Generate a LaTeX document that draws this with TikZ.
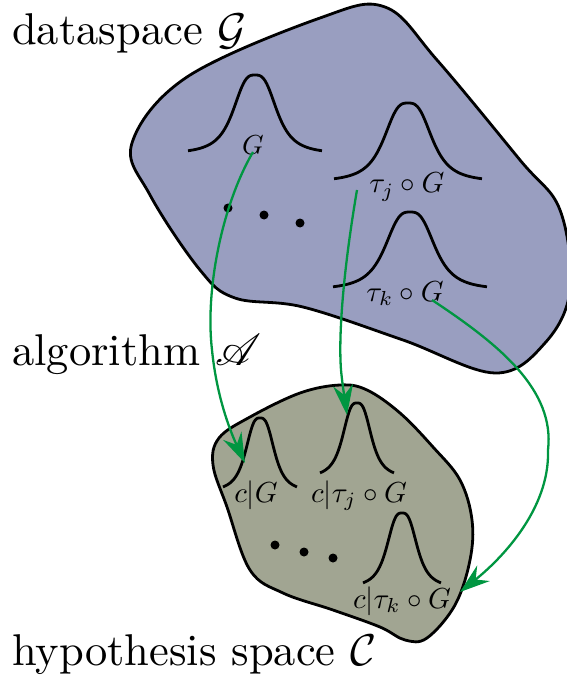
\documentclass[tikz,border=0pt]{standalone}
\usepackage{mathrsfs}
\usetikzlibrary{arrows.meta}
\definecolor{dataBlue}{RGB}{153,158,192}
\definecolor{hypGreen}{RGB}{161,165,146}
\definecolor{arrowGreen}{RGB}{0,150,65}
\newcommand\mybell[5]{% cx, base y, half width, height, a
  \draw[bellline] plot[domain=-1:1, samples=81, smooth]
    ({#1+#3*\x},{#2-#4/(1+(abs(\x)/#5)^3)});}
\begin{document}
\begin{tikzpicture}[x=1pt,y=-1pt,
  blob/.style={draw=black, line width=2.8pt, line join=round},
  bellline/.style={draw=black, line width=2.8pt},
  flow/.style={draw=arrowGreen, line width=2.3pt,
    -{Stealth[length=30pt,width=20pt,inset=10pt]}},
  biglabel/.style={anchor=base west, inner sep=0pt},
  smalllabel/.style={anchor=base, inner sep=0pt},
  blackdot/.style={circle, fill=black, inner sep=0pt, minimum size=9pt}]

\useasboundingbox (0,0) rectangle (566,676);

% dataspace blob
\draw[blob, fill=dataBlue] plot[smooth cycle, tension=0.6] coordinates {
  (132,143) (187,77) (320,18) (385,7) (437,60) (520,160) (560,210)
  (570,290) (545,343) (495,373) (403,340) (303,307) (235,298) (200,270) (150,195)};

% hypothesis blob
\draw[blob, fill=hypGreen] plot[smooth cycle, tension=0.6] coordinates {
  (219,438) (250,417) (300,393) (340,385) (367,390) (400,413) (433,447)
  (460,480) (472,520) (470,560) (455,605) (427,638) (405,640) (380,627)
  (333,610) (283,593) (250,570) (227,507) (213,465)};

% bells in dataspace
\mybell{255}{154}{67}{79}{0.35}
\mybell{408}{182}{74}{79}{0.35}
\mybell{410}{290}{77}{78}{0.35}

% bells in hypothesis space
\mybell{260}{492}{37}{74}{0.42}
\mybell{357}{478}{37}{75}{0.42}
\mybell{402}{588}{39}{75}{0.42}

% dots
\node[blackdot] (d1) at (228,208) {};
\node[blackdot] (d2) at (264,215) {};
\node[blackdot] (d3) at (300,223) {};
\node[blackdot] (e1) at (275,545) {};
\node[blackdot] (e2) at (304,552) {};
\node[blackdot] (e3) at (333,558) {};

% labels
\node[biglabel] (dsLabel) at (12,45) {\scalebox{4.45}{dataspace $\mathcal{G}$}};
\node[biglabel] (algLabel) at (12,365) {\scalebox{4.45}{algorithm $\mathscr{A}$}};
\node[biglabel] (hypLabel) at (12,665) {\scalebox{4.45}{hypothesis space $\mathcal{C}$}};

\node[smalllabel] (gLab) at (253,155) {\scalebox{2.75}{$G$}};
\node[smalllabel] (tjLab) at (407,193) {\scalebox{2.9}{$\tau_j\circ G$}};
\node[smalllabel] (tkLab) at (405,301) {\scalebox{2.9}{$\tau_k\circ G$}};
\node[smalllabel] (cgLab) at (256,502) {\scalebox{2.9}{$c|G$}};
\node[smalllabel] (cjLab) at (359,502) {\scalebox{2.9}{$c|\tau_j\circ G$}};
\node[smalllabel] (ckLab) at (402,608) {\scalebox{2.9}{$c|\tau_k\circ G$}};

% arrow endpoints
\coordinate (s1) at (253,152);
\coordinate (t1) at (245,463);
\coordinate (s2) at (357,190);
\coordinate (t2) at (347,415);
\coordinate (s3) at (432,300);
\coordinate (t3) at (460,592);

\draw[flow] (s1) .. controls (222,205) and (205,290) .. (212,350)
  .. controls (217,400) and (232,435) .. (t1);
\draw[flow] (s2) .. controls (345,260) and (338,330) .. (341,370)
  .. controls (343,390) and (345,400) .. (t2);
\draw[flow] (s3) .. controls (500,345) and (555,390) .. (548,450)
  .. controls (550,510) and (500,560) .. (t3);
\end{tikzpicture}
\end{document}
